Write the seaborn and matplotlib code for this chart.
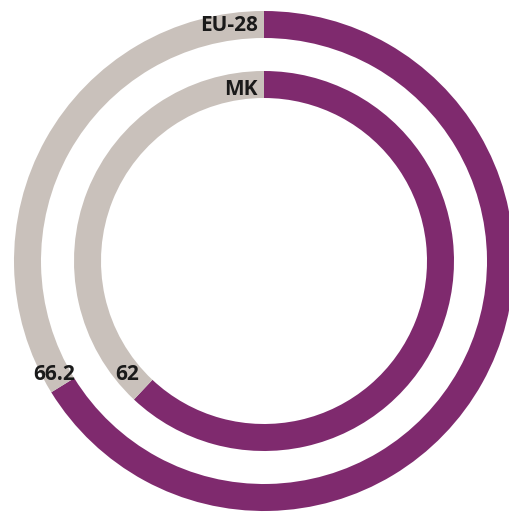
import matplotlib
matplotlib.use('Agg')
import matplotlib.pyplot as plt
import seaborn as sns

# data
groups = ['EU-28', 'MK']
shares = [66.2, 62.0]
value_labels = ['66.2', '62']

sns.set_style('white')
plt.rcParams['font.family'] = ['Open Sans', 'DejaVu Sans']

purple = '#7f2a6e'
grey = '#c9c1bb'

fig = plt.figure(figsize=(5.10, 5.13), dpi=100)
ax = fig.add_axes([0, 0, 1, 1])
ax.set_xlim(0, 510)
ax.set_ylim(0, 513)
ax.set_aspect('equal')
ax.axis('off')

cx, cy = 264, 252
radii = [250, 190]
ring_w = 27

for share, r in zip(shares, radii):
    ax.pie([share, 100 - share], colors=[purple, grey], startangle=90,
           counterclock=False, radius=r, center=(cx, cy),
           wedgeprops=dict(width=ring_w, linewidth=0), frame=True)

ax.set_xlim(0, 510)
ax.set_ylim(0, 513)
ax.axis('off')

# group names at the top of each ring
ax.text(258, 513 - 25, groups[0], ha='right', va='center', fontsize=15,
        fontweight='bold', color='#1a1a1a')
ax.text(258, 513 - 89, groups[1], ha='right', va='center', fontsize=15,
        fontweight='bold', color='#1a1a1a')

# values near the end of the grey part
ax.text(54, 513 - 375, value_labels[0], ha='center', va='center', fontsize=15,
        fontweight='bold', color='#1a1a1a')
ax.text(127, 513 - 375, value_labels[1], ha='center', va='center', fontsize=15,
        fontweight='bold', color='#1a1a1a')

fig.savefig('out.png', dpi=100)
